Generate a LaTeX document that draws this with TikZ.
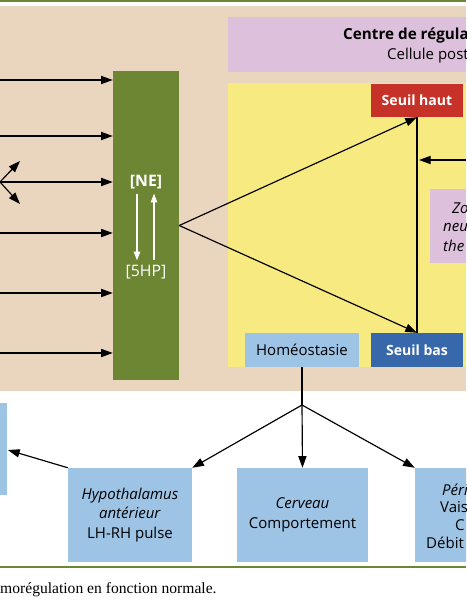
\documentclass[tikz,border=0pt]{standalone}
\usepackage{fontspec}
\setmainfont{Liberation Serif}
\newfontfamily\schemafont{Open Sans}
\usetikzlibrary{arrows.meta}

\definecolor{beige}{RGB}{234,214,190}
\definecolor{mauve}{RGB}{221,192,219}
\definecolor{jaune}{RGB}{246,234,128}
\definecolor{vert}{RGB}{108,134,52}
\definecolor{bleuclair}{RGB}{157,195,229}
\definecolor{bleufonce}{RGB}{55,104,172}
\definecolor{rouge}{RGB}{199,50,40}

\begin{document}
\begin{tikzpicture}[x=0.3mm,y=-0.3mm,
    font=\schemafont\fontsize{12.8}{16.5}\selectfont,
    fleche/.style={-{Triangle[length=10pt,width=7pt]},line width=1pt},
    fleblanche/.style={-{Triangle[length=7.5pt,width=5.5pt]},line width=1pt,white},
    boite/.style={fill=bleuclair,inner sep=0pt,align=center},
    seuil/.style={inner sep=0pt,text=white,font=\schemafont\bfseries\fontsize{12}{14}\selectfont},
    bout/.style={anchor=west,inner sep=0pt}]
        \useasboundingbox(0,0)rectangle(466,600);
        \clip(0,0)rectangle(466,600);

        % fonds
        \fill[beige](0,6)rectangle(466,391);
        \draw[vert,line width=1.5pt](0,1)--(466,1);
        \draw[vert,line width=1.5pt](0,567)--(466,567);
        \fill[mauve](228,17)rectangle(466,72);
        \fill[jaune](228,83)rectangle(466,367);
        \fill[mauve](430,189)rectangle(466,263);
        \fill[bleuclair](-10,403)rectangle(7,495);
        \coordinate(gauche)at(8,450);

        \node[bout,font=\schemafont\bfseries\fontsize{13}{15}\selectfont](centre)at(343,35){Centre de régula};
        \node[bout](cellule)at(387,56){Cellule post};
        \node[bout,font=\schemafont\itshape\fontsize{12.8}{15}\selectfont](zo)at(452,208){Zo};
        \node[bout,font=\schemafont\itshape\fontsize{12.8}{15}\selectfont](neu)at(443,227){neu};
        \node[bout,font=\schemafont\itshape\fontsize{12.8}{15}\selectfont](the)at(443,246){the};

        % barre verte
        \node[fill=vert,minimum width=19.8mm,minimum height=92.7mm](barre)at(146,225.5){};
        \node[text=white,font=\schemafont\bfseries\fontsize{13.5}{15}\selectfont,inner sep=1pt](ne)at(146,182){[NE]};
        \node[text=white,font=\schemafont\fontsize{13.5}{15}\selectfont,inner sep=1pt](hp)at(146,272){[5HP]};
        \draw[fleblanche]([xshift=-2.7mm,yshift=-1mm]ne.south)--([xshift=-2.7mm,yshift=1mm]hp.north);
        \draw[fleblanche]([xshift=2.4mm,yshift=1mm]hp.north)--([xshift=2.4mm,yshift=-1mm]ne.south);

        \foreach \y [count=\i] in {80,136,182,233,293,353}{
            \coordinate(entree\i)at(0,\y);
            \draw[fleche](entree\i)--(entree\i -| barre.west);
        }
        \coordinate(diverg)at(0,182);
        \coordinate(divhaut)at(20,161);
        \coordinate(divbas)at(20,204);
        \draw[fleche](diverg)--(divhaut);
        \draw[fleche](diverg)--(divbas);

        % seuils
        \node[seuil,fill=rouge,minimum width=27.6mm,minimum height=9.9mm](haut)at(417,100.5){Seuil haut};
        \node[seuil,fill=bleufonce,minimum width=27.6mm,minimum height=10.2mm](bas)at(417,350){Seuil bas};
        \node[boite,minimum width=34.2mm,minimum height=10.2mm](homeo)at(302,350){Homéostasie};
        \draw[line width=2.5pt](haut.south)--(bas.north);
        \draw[fleche](barre.east)--(haut.south);
        \draw[fleche](barre.east)--(bas.north);
        \coordinate(droite)at(466,160);
        \coordinate(contact)at(419,160);
        \draw[fleche](droite)--(contact);

        % effecteurs
        \node[boite,minimum width=37.2mm,minimum height=28.2mm](hypo)at(130,515){\textit{Hypothalamus}\\\textit{antérieur}\\LH-RH pulse};
        \node[boite,minimum width=39.3mm,minimum height=28.2mm](cerveau)at(302.5,515){\textit{Cerveau}\\Comportement};
        \node[boite,minimum width=39mm,minimum height=28.2mm](peri)at(480,515){};
        \node[bout,font=\schemafont\itshape\fontsize{12.8}{15}\selectfont](peri1)at(442,490){Péri};
        \node[bout](peri2)at(440,507){Vais};
        \node[bout](peri3)at(455,525){C};
        \node[bout](peri4)at(426,543){Débit};

        \coordinate(branche)at(302,405);
        \draw[line width=1pt](homeo.south)--(branche);
        \draw[fleche](branche)--(hypo.north east);
        \draw[fleche](branche)--(cerveau.north);
        \draw[fleche](branche)--(peri.north west);
        \draw[fleche](hypo.north west)--(gauche);

        \node[bout,font=\rmfamily\fontsize{13.3}{15}\selectfont](legende)at(0,590){morégulation en fonction normale.};
\end{tikzpicture}
\end{document}
